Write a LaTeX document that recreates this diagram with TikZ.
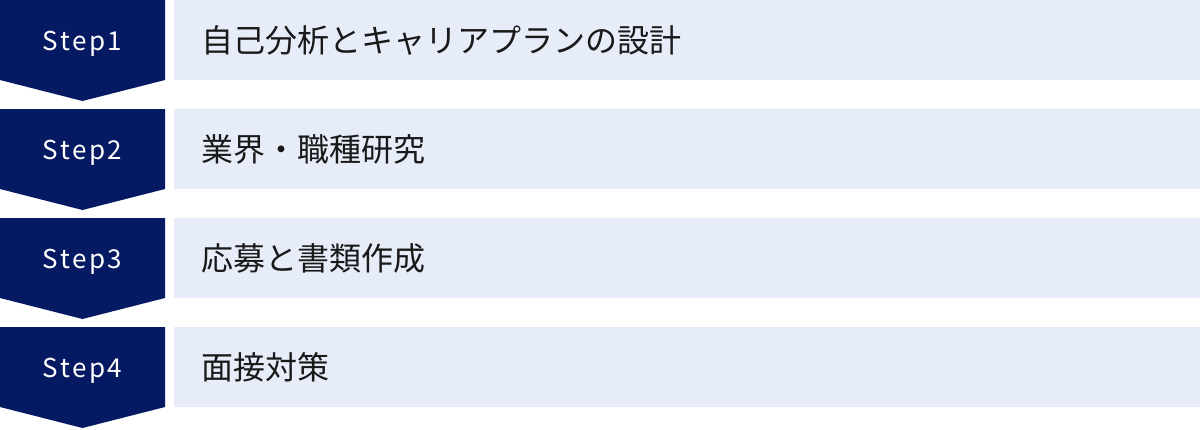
\documentclass[tikz,border=0pt]{standalone}
\usepackage{fontspec}
\setmainfont{Noto Sans CJK JP}
\definecolor{stepnavy}{HTML}{061A63}
\definecolor{boxblue}{HTML}{E7ECF9}
\tikzstyle{steplabel}=[text=white
,font=\fontsize{26}{30}\selectfont\addfontfeature{LetterSpace=10}
,inner sep=0pt
]
\tikzstyle{itemtext}=[text=black!90
,font=\fontsize{32}{38}\selectfont
,inner sep=0pt
]
\begin{document}
\begin{tikzpicture}[x=1pt,y=-1pt]
    \useasboundingbox (0,0) rectangle (1200,429);
    % One row per step: arrow block, light bar, texts
    \foreach \i/\txt in {1/自己分析とキャリアプランの設計, 2/業界・職種研究, 3/応募と書類作成, 4/面接対策} {
        \pgfmathsetmacro{\rowtop}{(\i-1)*109}
        \fill[stepnavy] (0,\rowtop) -- ++(165,0) -- ++(0,80) -- ++(-82.5,21) -- ++(-82.5,-21) -- cycle;
        \fill[boxblue] (174,\rowtop) rectangle ++(1026,80);
        \node[steplabel, anchor=base] (step\i) at (82.5,\rowtop+50) {Step\i};
        \node[itemtext, anchor=base west] (item\i) at (201,\rowtop+52) {\txt};
    }
\end{tikzpicture}
\end{document}
